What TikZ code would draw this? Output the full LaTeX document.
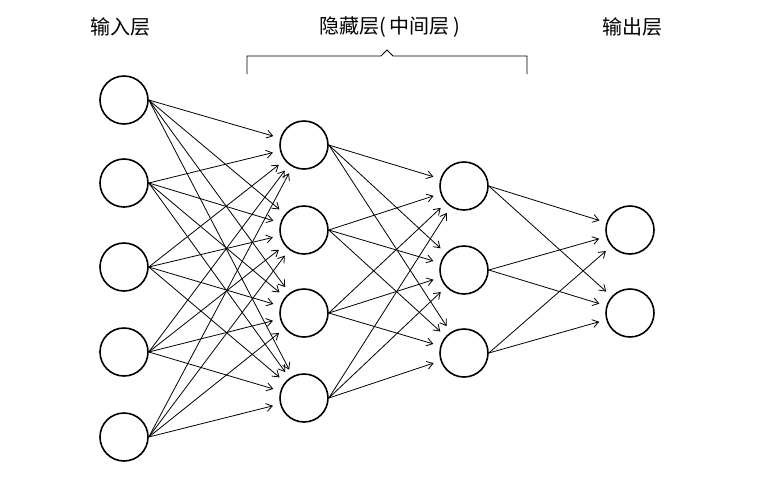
\documentclass[tikz,border=0pt]{standalone}
\usepackage{fontspec}
\setmainfont{Noto Sans CJK SC}
\usetikzlibrary{arrows.meta}
\begin{document}
\begin{tikzpicture}[x=1pt,y=-1pt,
  neuron/.style={circle,draw,line width=1.6pt,minimum size=48pt,inner sep=0pt},
  conn/.style={-{Straight Barb[length=6pt,width=8pt]},line width=0.8pt,shorten >=32pt},
  lbl/.style={font=\fontsize{20}{24}\selectfont}]
\useasboundingbox (0,0) rectangle (778,480);
\foreach \y [count=\i] in {100,183,267,352,437} \node[neuron] (a\i) at (124,\y) {};
\foreach \y [count=\i] in {145,230,313,398} \node[neuron] (b\i) at (304,\y) {};
\foreach \y [count=\i] in {186,270,353} \node[neuron] (c\i) at (464,\y) {};
\foreach \y [count=\i] in {230,313} \node[neuron] (d\i) at (630,\y) {};
\foreach \i in {1,...,5} \foreach \j in {1,...,4} \draw[conn] (a\i.east) -- (b\j.center);
\foreach \i in {1,...,4} \foreach \j in {1,...,3} \draw[conn] (b\i.east) -- (c\j.center);
\foreach \i in {1,...,3} \foreach \j in {1,2} \draw[conn] (c\i.east) -- (d\j.center);
\node[lbl] (t1) at (120,27) {输入层};
\node[lbl] (t2) at (390,27) {隐藏层(\,中间层\,)};
\node[lbl] (t3) at (632,27) {输出层};
\draw[line width=0.9pt] (247,74)--(247,56)--(381,56)--(387,50)--(393,56)--(527,56)--(527,74);
\end{tikzpicture}
\end{document}
